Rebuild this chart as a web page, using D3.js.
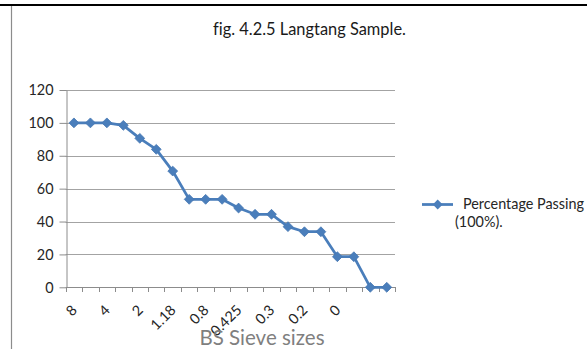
<!DOCTYPE html>
<html>
<head>
<meta charset="utf-8">
<script src="https://cdn.jsdelivr.net/npm/d3@7"></script>
<style>
  html, body { margin: 0; padding: 0; background: #fff; }
  svg { display: block; font-family: Lato, "Open Sans", sans-serif; font-variant-ligatures: none; }
</style>
</head>
<body>
<svg id="chart" width="587" height="349"></svg>
<script>
// Sieve sizes (every second label is shown on the axis)
const sieveLabels = ["8", "", "4", "", "2", "", "1.18", "", "0.8", "",
                     "0.425", "", "0.3", "", "0.2", "", "0", "", "", ""];
// Percentage passing for each sieve
const percentPassing = [100, 100, 100, 98.5, 90.6, 83.9, 70.7, 53.5, 53.5, 53.5,
                        48.2, 44.4, 44.4, 36.9, 33.8, 33.8, 18.6, 18.6, 0, 0];
const yTicks = [0, 20, 40, 60, 80, 100, 120];
const chartTitle = "fig. 4.2.5 Langtang Sample.";
const xTitle = "BS Sieve sizes";
const seriesName = ["Percentage Passing", "(100%)."];

const svg = d3.select("#chart");
const W = 587, H = 349;
const plot = { left: 65.7, right: 395, top: 90, bottom: 287.3 };
const blue = "#4a7ebb";
const axisGrey = "#8c8c8c";
const textCol = "#262626";

// page frame: black rule along the top, grey rule down the left
svg.append("line").attr("x1", 0).attr("x2", W).attr("y1", 5).attr("y2", 5)
  .attr("stroke", "#000").attr("stroke-width", 2);
svg.append("line").attr("x1", 11.5).attr("x2", 11.5).attr("y1", 6).attr("y2", H)
  .attr("stroke", axisGrey).attr("stroke-width", 1.2);

const idx = d3.range(percentPassing.length);
const x = d3.scaleBand().domain(idx).range([plot.left, plot.right]);
const y = d3.scaleLinear().domain([0, 120]).range([plot.bottom, plot.top]);
const cx = i => x(i) + x.bandwidth() / 2;

// horizontal gridlines
svg.append("g").selectAll("line").data(yTicks.filter(d => d > 0)).join("line")
  .attr("x1", plot.left).attr("x2", plot.right)
  .attr("y1", d => Math.round(y(d)) + 0.5).attr("y2", d => Math.round(y(d)) + 0.5)
  .attr("stroke", "#a3a3a3").attr("stroke-width", 1);

// y axis
const yAxis = svg.append("g")
  .attr("transform", `translate(${Math.round(plot.left) + 0.5},0)`)
  .call(d3.axisLeft(y).tickValues(yTicks).tickSize(7).tickPadding(6).tickSizeOuter(0));
yAxis.select(".domain").attr("stroke", axisGrey);
yAxis.selectAll(".tick line").attr("stroke", axisGrey);
yAxis.selectAll(".tick text").attr("font-size", 14.4).attr("fill", textCol)
  .attr("font-family", "Lato, sans-serif").attr("dy", "0.34em");

// x axis line with ticks at category boundaries
const xg = svg.append("g");
xg.append("line").attr("x1", plot.left).attr("x2", plot.right)
  .attr("y1", Math.round(plot.bottom) + 0.5).attr("y2", Math.round(plot.bottom) + 0.5)
  .attr("stroke", axisGrey);
const bounds = idx.map(i => x(i)).concat([x(idx[idx.length - 1]) + x.bandwidth()]);
xg.selectAll("line.tk").data(bounds).join("line").attr("class", "tk")
  .attr("x1", d => Math.round(d) + 0.5).attr("x2", d => Math.round(d) + 0.5)
  .attr("y1", Math.round(plot.bottom)).attr("y2", Math.round(plot.bottom) + 5)
  .attr("stroke", axisGrey);

// rotated category labels
xg.selectAll("text").data(idx.filter(i => sieveLabels[i] !== "")).join("text")
  .attr("transform", i => `translate(${cx(i) + 4},311) rotate(-45)`)
  .attr("text-anchor", "end")
  .attr("font-size", 14.4).attr("fill", textCol)
  .text(i => sieveLabels[i]);

// axis title
svg.append("text").attr("x", 262).attr("y", 345)
  .attr("text-anchor", "middle").attr("font-size", 20.5).attr("fill", "#7f7f7f")
  .text(xTitle);

// chart title
svg.append("text").attr("x", 309.5).attr("y", 35)
  .attr("text-anchor", "middle").attr("font-size", 16.4).attr("fill", "#1a1a1a")
  .text(chartTitle);

// data line and diamond markers
svg.append("path").datum(idx)
  .attr("d", d3.line().x(cx).y(i => y(percentPassing[i])))
  .attr("fill", "none").attr("stroke", blue).attr("stroke-width", 2.75)
  .attr("stroke-linejoin", "round");
const diamond = d3.symbol().type(d3.symbolDiamond2).size(62);
svg.append("g").selectAll("path").data(idx).join("path")
  .attr("transform", i => `translate(${cx(i)},${y(percentPassing[i])})`)
  .attr("d", diamond).attr("fill", blue).attr("stroke", "#4677b3").attr("stroke-width", 0.8);

// legend
const lg = svg.append("g");
lg.append("line").attr("x1", 422).attr("x2", 453).attr("y1", 204.5).attr("y2", 204.5)
  .attr("stroke", blue).attr("stroke-width", 2.75);
lg.append("path").attr("transform", "translate(437.7,204.5)").attr("d", diamond).attr("fill", blue);
lg.append("text").attr("x", 463).attr("y", 209).attr("font-size", 14.4).attr("fill", textCol)
  .text(seriesName[0]);
lg.append("text").attr("x", 455).attr("y", 226.5).attr("font-size", 14.4).attr("fill", textCol)
  .text(seriesName[1]);
</script>
</body>
</html>
